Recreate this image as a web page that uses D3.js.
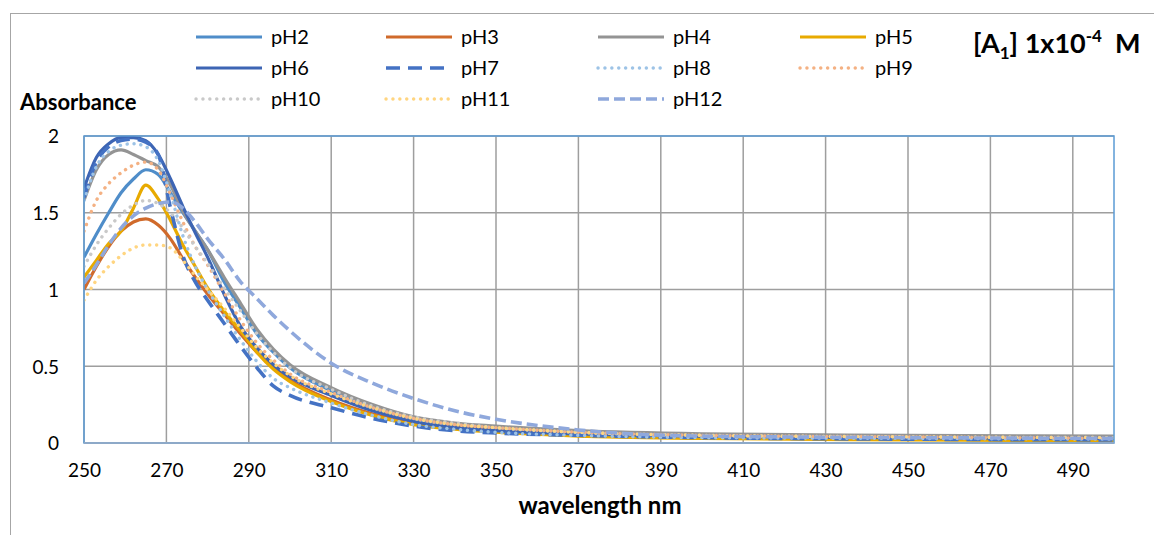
<!DOCTYPE html>
<html><head><meta charset="utf-8">
<script src="https://cdn.jsdelivr.net/npm/d3@7"></script>
<style>
body{margin:0;background:#fff}
svg{display:block}
text{font-family:Lato,"Open Sans",sans-serif;fill:#000}
</style>
</head><body>
<svg id="c" width="1154" height="535"></svg>
<script>
// ---- data ----
const wavelengths = [250,253,256,259,262,265,268,271,274,277,280,284,288,292,296,300,310,320,330,340,350,370,400,450,500];
const pH2  = [1.21,1.36,1.50,1.63,1.72,1.78,1.75,1.63,1.50,1.38,1.26,1.05,0.88,0.71,0.59,0.49,0.34,0.23,0.16,0.12,0.10,0.07,0.05,0.04,0.035];
const pH3  = [1.00,1.15,1.28,1.38,1.44,1.46,1.42,1.33,1.20,1.08,0.97,0.84,0.71,0.59,0.49,0.41,0.28,0.19,0.13,0.10,0.08,0.05,0.035,0.025,0.02];
const pH4  = [1.58,1.78,1.88,1.91,1.88,1.84,1.80,1.68,1.51,1.38,1.26,1.08,0.91,0.74,0.61,0.51,0.36,0.25,0.17,0.13,0.11,0.08,0.06,0.05,0.045];
const pH5  = [1.08,1.19,1.30,1.38,1.53,1.68,1.59,1.45,1.29,1.15,1.01,0.86,0.73,0.59,0.48,0.40,0.27,0.18,0.12,0.09,0.07,0.045,0.03,0.02,0.015];
const pH6  = [1.66,1.86,1.95,1.99,1.99,1.97,1.88,1.72,1.54,1.37,1.21,0.97,0.76,0.62,0.51,0.43,0.31,0.21,0.14,0.10,0.08,0.06,0.045,0.035,0.03];
const pH7  = [1.60,1.83,1.93,1.97,1.98,1.96,1.88,1.53,1.22,1.05,0.93,0.78,0.63,0.49,0.37,0.31,0.23,0.16,0.11,0.08,0.065,0.05,0.035,0.025,0.02];
const pH8  = [1.58,1.80,1.90,1.94,1.95,1.93,1.84,1.62,1.35,1.15,1.00,0.83,0.67,0.53,0.42,0.36,0.26,0.18,0.12,0.09,0.07,0.05,0.035,0.03,0.025];
const pH9  = [1.38,1.58,1.69,1.76,1.81,1.83,1.78,1.62,1.44,1.28,1.16,0.98,0.80,0.65,0.54,0.45,0.33,0.23,0.16,0.12,0.10,0.07,0.05,0.04,0.03];
const pH10 = [1.15,1.29,1.40,1.49,1.55,1.58,1.56,1.50,1.40,1.28,1.17,1.01,0.86,0.71,0.59,0.49,0.35,0.24,0.17,0.13,0.10,0.07,0.05,0.04,0.035];
const pH11 = [0.93,1.06,1.15,1.22,1.27,1.29,1.29,1.27,1.19,1.09,1.00,0.88,0.75,0.62,0.52,0.44,0.32,0.23,0.16,0.12,0.10,0.07,0.05,0.04,0.035];
const pH12 = [1.04,1.16,1.29,1.40,1.48,1.53,1.56,1.57,1.53,1.44,1.33,1.20,1.05,0.94,0.83,0.73,0.52,0.39,0.29,0.21,0.155,0.085,0.045,0.035,0.03];
const seriesNames = ["pH2","pH3","pH4","pH5","pH6","pH7","pH8","pH9","pH10","pH11","pH12"];
const seriesValues = [pH2,pH3,pH4,pH5,pH6,pH7,pH8,pH9,pH10,pH11,pH12];
const xTicks = [250,270,290,310,330,350,370,390,410,430,450,470,490];
const yTicks = [0,0.5,1,1.5,2];
const yTickLabels = ["0","0.5","1","1.5","2"];

// ---- styles ----
const styles = {
  pH2:{c:"#4F8DC9",w:3.2,d:null},
  pH3:{c:"#D06A2B",w:3.2,d:null},
  pH4:{c:"#949494",w:3.2,d:null},
  pH5:{c:"#E8AA00",w:3.2,d:null},
  pH6:{c:"#3D65B4",w:3.2,d:null},
  pH7:{c:"#4472C4",w:3.6,d:"14 8"},
  pH8:{c:"#9DC3E6",w:3.4,d:"0.1 6.8",cap:"round"},
  pH9:{c:"#F4B183",w:3.4,d:"0.1 6.8",cap:"round"},
  pH10:{c:"#C9C9C9",w:3.4,d:"0.1 6.8",cap:"round"},
  pH11:{c:"#FFD580",w:3.4,d:"0.1 6.8",cap:"round"},
  pH12:{c:"#8FA8DC",w:3.6,d:"11 5"}
};

const svg = d3.select("#c");
const L=84, R=1114, T=136, B=443;
const x = d3.scaleLinear().domain([250,500]).range([L,R]);
const y = d3.scaleLinear().domain([0,2]).range([B,T]);

// outer chart border
svg.append("rect").attr("x",10.5).attr("y",13.5).attr("width",1300).attr("height",700)
  .attr("fill","none").attr("stroke","#A6A6A6").attr("stroke-width",1);

// gridlines
svg.append("g").selectAll("line").data(xTicks).join("line")
  .attr("x1",d=>x(d)).attr("x2",d=>x(d)).attr("y1",T).attr("y2",B)
  .attr("stroke","#9E9E9E").attr("stroke-width",1.5);
svg.append("g").selectAll("line").data(yTicks).join("line")
  .attr("x1",L).attr("x2",R).attr("y1",d=>y(d)).attr("y2",d=>y(d))
  .attr("stroke","#9E9E9E").attr("stroke-width",1.5);

// axes (labels only)
const xAxis = d3.axisBottom(x).tickValues(xTicks).tickSize(0).tickPadding(0).tickFormat(d3.format("d"));
const gx = svg.append("g").attr("transform",`translate(0,${B})`).call(xAxis);
gx.select(".domain").remove();
gx.selectAll("text").attr("dy",null).attr("y",34).attr("font-size",19).attr("font-family","Lato");

const yAxis = d3.axisLeft(y).tickValues(yTicks).tickSize(0).tickPadding(0).tickFormat((d,i)=>yTickLabels[i]);
const gy = svg.append("g").attr("transform",`translate(${L-25},0)`).call(yAxis);
gy.select(".domain").remove();
gy.selectAll("text").attr("dy","0.36em").attr("x",0).attr("font-size",19).attr("font-family","Lato");

// clip
svg.append("clipPath").attr("id","clip").append("rect").attr("x",L).attr("y",T-3).attr("width",R-L).attr("height",B-T+6);

// lines
const line = d3.line().x(d=>x(d[0])).y(d=>y(d[1])).curve(d3.curveMonotoneX);
const lg = svg.append("g").attr("clip-path","url(#clip)");
seriesNames.forEach((n,i)=>{
  const s=styles[n];
  lg.append("path").datum(wavelengths.map((w,j)=>[w,seriesValues[i][j]]))
    .attr("d",line).attr("fill","none").attr("stroke",s.c).attr("stroke-width",s.w)
    .attr("stroke-dasharray",s.d).attr("stroke-linecap",s.cap||"butt").attr("stroke-linejoin","round");
});

// plot border
svg.append("rect").attr("x",L).attr("y",T).attr("width",R-L).attr("height",B-T)
  .attr("fill","none").attr("stroke","#5B9BD5").attr("stroke-width",1.5);
svg.append("line").attr("x1",L).attr("x2",R).attr("y1",B).attr("y2",B).attr("stroke","#8DA9C8").attr("stroke-width",2);

// axis titles
svg.append("text").attr("x",20).attr("y",110).attr("font-size",22).attr("font-weight","bold").text("Absorbance");
svg.append("text").attr("x",600).attr("y",514).attr("text-anchor","middle").attr("font-size",24).attr("font-weight","bold").text("wavelength nm");

// title
const t = svg.append("text").attr("x",973).attr("y",53).attr("font-size",27).attr("font-weight","bold");
t.append("tspan").text("[A");
t.append("tspan").attr("font-size",17).attr("dy",6).text("1");
t.append("tspan").attr("dy",-6).text("] 1x10");
t.append("tspan").attr("font-size",17).attr("dy",-11).text("-4");
t.append("tspan").attr("dy",11).text("\u00a0 M");

// legend
const colX=[196,386,598,800], rowY=[37,68,99];
seriesNames.forEach((n,i)=>{
  const s=styles[n], cx=colX[i%4], cy=rowY[Math.floor(i/4)];
  svg.append("line").attr("x1",cx).attr("x2",cx+66).attr("y1",cy).attr("y2",cy)
    .attr("stroke",s.c).attr("stroke-width",s.w).attr("stroke-dasharray",s.d).attr("stroke-linecap",s.cap||"butt");
  svg.append("text").attr("x",cx+75).attr("y",cy).attr("dy","0.36em").attr("font-size",20).text(n);
});
</script>
</body></html>
